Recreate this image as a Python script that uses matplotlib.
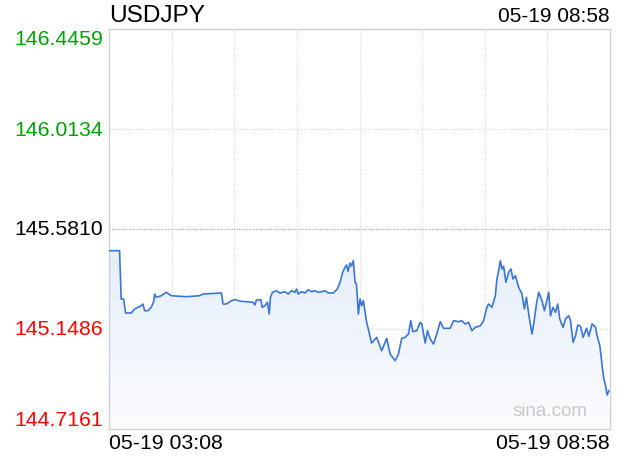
import numpy as np
import matplotlib
matplotlib.use('Agg')
import matplotlib.pyplot as plt
from matplotlib.patches import Polygon

plt.rcParams['font.family'] = ['Liberation Sans', 'DejaVu Sans']

# minutes after 05-19 03:08
minutes = [0, 7.4, 8.5, 10.2, 11.6, 15.5, 17.9, 20.2, 22.5, 23.7, 24.9, 27.2, 29.5, 31.2, 31.9, 33.0,
           36.5, 40.0, 43.5, 54.0, 63.4, 65.7, 78.5, 79.7, 82.0, 85.5, 87.9, 92.5, 100.7, 101.9, 103.0,
           106.1, 107.0, 108.9, 110.7, 111.9, 112.8, 114.2, 117.0, 119.4, 122.9, 125.2, 127.5, 129.9,
           131.0, 132.2, 134.5, 136.9, 139.2, 141.5, 143.9, 146.2, 148.5, 150.9, 153.2, 156.7, 159.5,
           161.4, 163.2, 164.9, 166.0, 167.0, 168.4, 169.4, 170.7, 171.9, 172.9, 174.2, 175.4, 176.5,
           177.7, 180.0, 183.5, 187.0, 190.5, 194.0, 196.4, 199.9, 202.2, 204.5, 206.9, 209.2, 210.8,
           212.2, 215.0, 217.4, 218.5, 220.9, 222.5, 224.4, 226.7, 229.0, 231.4, 233.7, 238.4, 240.7,
           244.2, 246.5, 248.9, 251.2, 253.5, 255.9, 259.4, 261.7, 264.0, 265.2, 267.5, 269.9, 271.0,
           272.2, 273.4, 274.5, 275.7, 277.3, 279.2, 280.8, 282.2, 283.9, 286.2, 288.5, 290.2, 291.6,
           293.2, 295.5, 296.7, 298.6, 300.2, 302.5, 304.2, 305.6, 307.2, 308.4, 310.2, 311.9, 313.5,
           314.9, 317.2, 318.9, 321.2, 322.4, 324.2, 325.9, 327.5, 329.4, 331.2, 333.6, 335.2, 337.5,
           339.9, 341.0, 342.9, 344.5, 345.7, 346.9, 348.0, 349.2]
price = [145.4871, 145.4871, 145.2783, 145.2783, 145.2177, 145.2177, 145.2350, 145.2424, 145.2493,
         145.2566, 145.2276, 145.2276, 145.2424, 145.2666, 145.2999, 145.2856, 145.2925, 145.3072,
         145.2925, 145.2882, 145.2925, 145.2999, 145.3042, 145.2566, 145.2566, 145.2709, 145.2752,
         145.2683, 145.2640, 145.2523, 145.2739, 145.2752, 145.2424, 145.2493, 145.2640, 145.2134,
         145.2856, 145.3072, 145.3141, 145.3042, 145.3098, 145.2999, 145.3141, 145.3072, 145.3215,
         145.2999, 145.3098, 145.3042, 145.3185, 145.3098, 145.3141, 145.3072, 145.3098, 145.3141,
         145.3042, 145.3042, 145.3215, 145.3505, 145.3937, 145.4153, 145.4253, 145.3980, 145.4339,
         145.4210, 145.4439, 145.3505, 145.3430, 145.2134, 145.2783, 145.2493, 145.2709, 145.1775,
         145.0880, 145.1126, 145.0547, 145.1083, 145.0404, 145.0114, 145.0404, 145.1083, 145.1126,
         145.1269, 145.1844, 145.1368, 145.1412, 145.1775, 145.1701, 145.0880, 145.1412, 145.1053,
         145.0836, 145.1269, 145.1801, 145.1515, 145.1515, 145.1844, 145.1801, 145.1844, 145.1701,
         145.1775, 145.1412, 145.1559, 145.1628, 145.1844, 145.2424, 145.2566, 145.2424, 145.2925,
         145.3647, 145.4006, 145.4439, 145.4080, 145.4197, 145.3505, 145.3937, 145.4080, 145.3647,
         145.3790, 145.3288, 145.2999, 145.2350, 145.2856, 145.2134, 145.1269, 145.1701, 145.2566,
         145.3072, 145.2709, 145.2276, 145.2640, 145.3072, 145.2060, 145.2424, 145.2207, 145.2566,
         145.1918, 145.1559, 145.1918, 145.2060, 145.1844, 145.0910, 145.1195, 145.1658, 145.1602,
         145.1126, 145.1515, 145.1170, 145.1701, 145.1559, 145.1195, 145.0763, 144.9898, 144.9323,
         144.9033, 144.8631, 144.8817]

y_ticks = [146.4459, 146.0134, 145.5810, 145.1486, 144.7161]
y_colors = ['#00a000', '#00a000', '#000000', '#ff0000', '#ff0000']
x_labels = ['05-19 03:08', '05-19 08:58']
title = 'USDJPY'
stamp = '05-19 08:58'

fig = plt.figure(figsize=(6.2, 4.6), dpi=100)
ax = fig.add_axes([109 / 620, 30 / 460, 501 / 620, 400 / 460])
ymin, ymax = y_ticks[-1], y_ticks[0]
ax.set_xlim(0, 350)
ax.set_ylim(ymin, ymax)

# gradient fill under the line
grad = np.linspace(0, 1, 256).reshape(-1, 1)
cmap = matplotlib.colors.LinearSegmentedColormap.from_list('f', ['#fbfcff', '#e6eefa'])
im = ax.imshow(grad, cmap=cmap, aspect='auto', origin='lower',
               extent=[0, 350, ymin, max(price)], zorder=1)
verts = [(minutes[0], ymin)] + list(zip(minutes, price)) + [(minutes[-1], ymin)]
poly = Polygon(verts, closed=True, facecolor='none', edgecolor='none')
ax.add_patch(poly)
im.set_clip_path(poly)

ax.plot(minutes, price, color='#3a76d6', lw=1.2, zorder=3)

# grid
for i in range(1, 8):
    ax.axvline(350 * i / 8, color='#d6d6d6', lw=0.8, ls=(0, (1, 1.5)), zorder=0)
for v in [y_ticks[1], y_ticks[3]]:
    ax.axhline(v, color='#d6d6d6', lw=0.8, ls=(0, (1, 1.5)), zorder=0)
ax.axhline(y_ticks[2], color='#a0a0a0', lw=0.8, ls=(0, (1, 1.2)), zorder=0)

ax.set_xticks([])
ax.set_yticks([])
for s in ax.spines.values():
    s.set_color('#d0d0d0')
    s.set_linewidth(1)

# y labels
tr = ax.get_yaxis_transform()
vas = ['top', 'center', 'center', 'center', 'bottom']
for v, c, va in zip(y_ticks, y_colors, vas):
    ax.text(-0.012, v, f'{v:.4f}', color=c, fontsize=15.3, ha='right', va=va, transform=tr)

ax.text(0.0, -0.035, x_labels[0], transform=ax.transAxes, fontsize=15.3, ha='left', va='center')
ax.text(1.0, -0.035, x_labels[1], transform=ax.transAxes, fontsize=15.3, ha='right', va='center')
ax.text(0.0, 1.035, title, transform=ax.transAxes, fontsize=17.6, ha='left', va='center')
ax.text(1.0, 1.035, stamp, transform=ax.transAxes, fontsize=15, ha='right', va='center')
ax.text(0.955, 0.045, 'sina.com', transform=ax.transAxes, fontsize=13.5, color='#c8c8c8',
        ha='right', va='center', zorder=4)

fig.savefig('out.png', dpi=100)
